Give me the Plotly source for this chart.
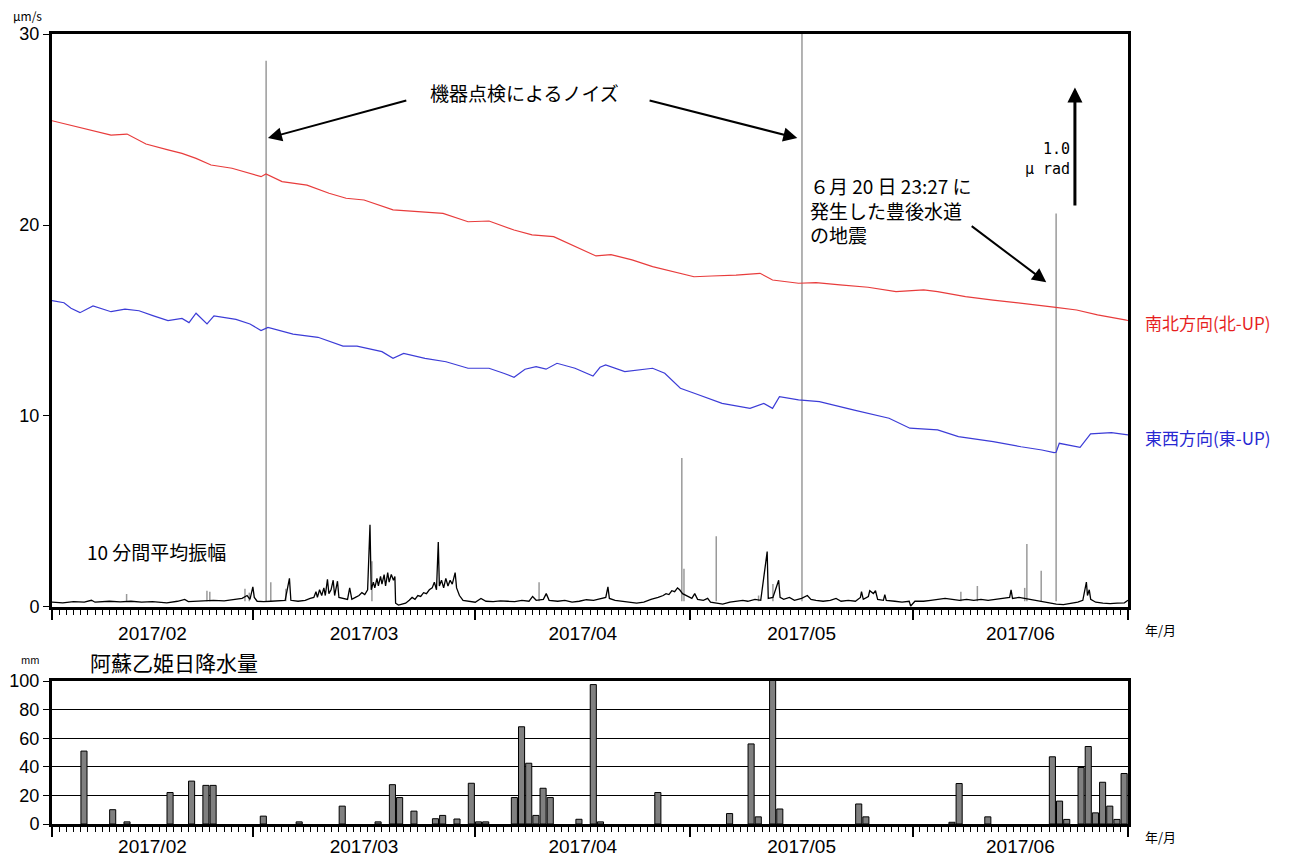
import pandas as pd
import plotly.graph_objects as go

BASE = pd.Timestamp("2017-02-01")
END = pd.Timestamp("2017-07-01")

# 南北方向 tilt (days from 2017-02-01, value)
NS_DAY = [0.0, 4.74, 8.23, 10.46, 13.1, 16.17, 18.12, 20.08, 22.17, 25.09, 29.14, 29.83,
          32.07, 35.55, 38.62, 41.0, 43.5, 47.54, 50.47, 54.51, 58.0, 60.92, 64.41, 66.92,
          69.93, 72.91, 75.84, 77.93, 80.86, 83.73, 86.63, 89.5, 91.97, 95.36, 98.7, 100.45,
          104.07, 106.51, 109.85, 113.76, 117.66, 121.52, 123.46, 127.34, 131.19, 135.09,
          138.02, 139.94, 142.84, 145.75, 149.59, 150.0]
NS_VAL = [25.46, 25.01, 24.71, 24.76, 24.24, 23.93, 23.75, 23.49, 23.14, 22.97, 22.53, 22.67,
          22.27, 22.09, 21.66, 21.4, 21.31, 20.79, 20.7, 20.61, 20.17, 20.21, 19.74, 19.48,
          19.39, 18.86, 18.38, 18.45, 18.17, 17.82, 17.56, 17.29, 17.33, 17.38, 17.47, 17.12,
          16.95, 16.98, 16.86, 16.74, 16.51, 16.6, 16.51, 16.25, 16.07, 15.9,
          15.81, 15.69, 15.55, 15.29, 15.03, 15.0]

# 東西方向 tilt
EW_DAY = [0.0, 1.67, 2.65, 3.9, 5.72, 8.23, 10.18, 12.13, 14.16, 16.17, 18.12, 19.1, 20.08,
          21.61, 22.58, 25.65, 27.6, 29.14, 30.11, 33.6, 37.08, 40.57, 42.52, 46.0, 47.54,
          49.02, 52.0, 54.93, 58.0, 60.92, 62.96, 64.41, 65.94, 67.48, 68.87, 70.4, 72.91,
          75.42, 76.4, 77.18, 79.85, 83.73, 85.42, 87.6, 89.54, 93.41, 97.31, 99.23, 100.45,
          101.41, 104.07, 106.98, 111.84, 116.69, 119.59, 123.46, 126.36, 131.21, 135.09,
          138.0, 139.69, 139.98, 140.42, 143.32, 144.78, 147.69, 150.0]
EW_VAL = [16.04, 15.93, 15.64, 15.41, 15.76, 15.46, 15.59, 15.51, 15.24, 14.99, 15.11, 14.89, 15.38,
          14.82, 15.24, 15.06, 14.82, 14.47, 14.64, 14.29, 14.12, 13.66, 13.66, 13.37, 13.02,
          13.28, 13.02, 12.84, 12.5, 12.5, 12.24, 12.03, 12.45, 12.58, 12.45, 12.76, 12.5,
          12.09, 12.55, 12.67, 12.32, 12.5, 12.24, 11.45, 11.19, 10.66, 10.4, 10.66, 10.4,
          11.01, 10.84, 10.75, 10.31, 9.88, 9.36, 9.27, 8.92, 8.66, 8.39,
          8.22, 8.08, 8.1, 8.57, 8.36, 9.06, 9.13, 9.01]

# 10分間平均振幅 (black trace)
AMP_DAY = [0, 1.5, 3, 4.5, 5.5, 6, 8, 9.5, 11, 12.5, 14, 16, 17.5, 18.5, 19, 21, 22.5, 24, 25.5,
           26.5, 27.2, 27.6, 28.0, 28.2, 28.6, 29.5, 30.5, 31.5, 32.5, 33.1, 33.3, 34.3, 35.3, 36.0,
           36.5, 36.8, 37.0, 37.3, 37.6, 37.9, 38.1, 38.4, 38.6, 38.9, 39.2, 39.4, 39.8, 40.0, 40.5,
           41.2, 41.5, 41.8, 42.3, 42.8, 43.2, 43.6, 44.0, 44.33, 44.5, 44.8, 45.0, 45.3, 45.5,
           45.8, 46.0, 46.3, 46.5, 46.8, 47.0, 47.3, 47.6, 47.8, 47.9, 48.3, 48.8, 49.3, 49.8,
           50.2, 50.6, 51.0, 51.4, 51.8, 52.2, 52.6, 53.0, 53.3, 53.6, 53.85, 54.0, 54.3, 54.6,
           54.9, 55.2, 55.5, 55.8, 56.2, 56.4, 56.8, 57.3, 58, 59, 59.8, 60.5, 61.5, 62.5, 63.5,
           64.5, 65.5, 66.5, 67.0, 67.5, 68.5, 68.9, 69.3, 70.5, 71.5, 72.5, 73.5, 74.5, 75.5,
           76.5, 77.2, 77.5, 77.7, 78.5, 79.5, 80.5, 81.5, 82.5, 83.5, 84.5, 85.2, 85.6, 86.0,
           86.4, 86.8, 87.2, 87.5, 87.9, 88.5, 89.2, 89.6, 90.0, 90.8, 91.4, 91.8, 92.5, 93.5,
           94.5, 95.5, 96.3, 97.0, 98.0, 98.8, 99.7, 99.85, 100.5, 101.3, 101.5, 102.0, 102.8,
           103.5, 104.5, 105.3, 105.8, 106.5, 107.5, 108.5, 109.3, 110.0, 111.0, 112.0, 112.7,
           112.85, 113.1, 113.8, 114.0, 114.5, 114.8, 115.1, 115.9, 116.1, 116.3, 117.5, 118.5,
           119.5, 119.7, 120.3, 121.5, 122.5, 123.5, 124.5, 125.5, 126.5, 127.5, 128.5, 129.5,
           130.5, 131.5, 132.5, 133.5, 133.7, 133.9, 134.8, 135.5, 136.5, 137.3, 138.0, 139.0,
           140.0, 141.0, 142.0, 143.0, 143.7, 144.2, 144.35, 144.6, 144.8, 145.5, 146.5, 147.5,
           148.5, 149.5, 150.0]
AMP_VAL = [0.25, 0.22, 0.28, 0.25, 0.35, 0.25, 0.3, 0.27, 0.3, 0.25, 0.28, 0.22, 0.3, 0.4, 0.28, 0.3, 0.35, 0.32, 0.38,
           0.45, 0.6, 0.4, 1.05, 0.5, 0.3, 0.28, 0.3, 0.32, 0.35, 1.5, 0.35, 0.3, 0.35, 0.45,
           0.5, 0.8, 0.5, 0.9, 0.6, 1.0, 0.6, 1.45, 0.7, 0.9, 1.4, 0.6, 1.35, 0.5, 0.45,
           0.4, 1.0, 0.4, 0.5, 0.6, 0.75, 0.65, 0.9, 4.3, 0.9, 1.3, 1.0, 1.5, 1.1,
           1.6, 1.2, 1.7, 1.1, 1.8, 1.3, 1.7, 1.4, 1.6, 0.2, 0.1, 0.15, 0.2, 0.35,
           0.5, 0.4, 0.6, 0.55, 0.75, 0.7, 0.9, 1.0, 1.3, 0.9, 3.4, 1.1, 1.4, 1.0,
           1.5, 1.1, 1.4, 1.2, 1.8, 1.0, 0.6, 0.35, 0.3, 0.25, 0.45, 0.3, 0.28, 0.32, 0.3,
           0.28, 0.35, 0.3, 0.55, 0.35, 0.4, 0.7, 0.35, 0.3, 0.35, 0.25, 0.3, 0.38, 0.35,
           0.45, 0.5, 1.05, 0.45, 0.35, 0.3, 0.25, 0.2, 0.25, 0.4, 0.5, 0.6, 0.7, 0.65,
           0.85, 0.8, 1.0, 0.9, 0.7, 0.6, 0.45, 0.7, 0.4, 0.35, 0.45, 0.25, 0.2, 0.15,
           0.25, 0.3, 0.35, 0.3, 0.4, 0.35, 2.9, 0.45, 0.5, 1.4, 0.5, 0.4, 0.5,
           0.35, 0.45, 0.6, 0.4, 0.35, 0.3, 0.35, 0.45, 0.3, 0.35, 0.3, 0.5,
           0.8, 0.4, 0.55, 0.85, 0.7, 0.85, 0.4, 0.35, 0.65, 0.35, 0.3, 0.25,
           0.3, 0.05, 0.3, 0.3, 0.35, 0.4, 0.45, 0.4, 0.35, 0.4, 0.35, 0.4,
           0.35, 0.4, 0.45, 0.5, 0.9, 0.45, 0.5, 0.45, 0.4, 0.35, 0.3, 0.2,
           0.15, 0.12, 0.2, 0.25, 0.35, 1.3, 0.6, 0.9, 0.4, 0.25, 0.2, 0.18,
           0.2, 0.22, 0.35]

# gray spikes (instrument noise, earthquake etc.)
SPIKE_DAY = [10.4, 21.6, 22.0, 26.9, 27.5, 29.85, 30.5, 32.6, 44.6, 67.9, 87.8, 88.1, 92.6,
             98.5, 100.5, 104.55, 126.7, 129.0, 135.6, 135.9, 137.9, 139.98]
SPIKE_VAL = [0.68, 0.85, 0.8, 0.95, 0.75, 28.6, 1.3, 0.95, 2.4, 1.3, 7.8, 2.0, 3.7,
             0.6, 1.2, 31.0, 0.8, 1.1, 1.0, 3.3, 1.9, 20.6]
SPIKE_BASE = 0.3

# 阿蘇乙姫 日降水量
RAIN_DATE = ["2017-02-05", "2017-02-09", "2017-02-11", "2017-02-17", "2017-02-20", "2017-02-22",
             "2017-02-23", "2017-03-02", "2017-03-07", "2017-03-13", "2017-03-18", "2017-03-20",
             "2017-03-21", "2017-03-23", "2017-03-26", "2017-03-27", "2017-03-29", "2017-03-31",
             "2017-04-01", "2017-04-02", "2017-04-06", "2017-04-07", "2017-04-08", "2017-04-09",
             "2017-04-10", "2017-04-11", "2017-04-15", "2017-04-17", "2017-04-18", "2017-04-26",
             "2017-05-06", "2017-05-09", "2017-05-10", "2017-05-12", "2017-05-13", "2017-05-24",
             "2017-05-25", "2017-06-06", "2017-06-07", "2017-06-11", "2017-06-20", "2017-06-21",
             "2017-06-22", "2017-06-24", "2017-06-25", "2017-06-26", "2017-06-27", "2017-06-28",
             "2017-06-29", "2017-06-30"]
RAIN_MM = [51, 10, 1.5, 22, 30, 27,
           27, 5.5, 1.5, 12.5, 1.5, 27.5,
           18.5, 9, 3.7, 6, 3.5, 28.5,
           1.5, 1.5, 18.5, 68, 42.5, 6,
           25, 18.5, 3.3, 97.5, 1.5, 22,
           7.3, 56, 5, 105, 10.5, 14,
           5, 1.2, 28.3, 5, 47, 16,
           3.2, 39.5, 54.2, 7.8, 29.2, 12.5,
           3.2, 35.3]

X_TICK_FORMAT = "%Y/%m"

DAY_MS = 86400000


def t(days):
    return [BASE + pd.Timedelta(days=d) for d in days]


def td(d):
    return (BASE + pd.Timedelta(days=d)).strftime("%Y-%m-%d %H:%M:%S")


NUM_FONT = "Liberation Sans, Arial, sans-serif"
JP_FONT = "Noto Sans CJK JP, sans-serif"

fig = go.Figure()

# gray spikes as vertical segments
sx, sy = [], []
for d, v in zip(SPIKE_DAY, SPIKE_VAL):
    ts = BASE + pd.Timedelta(days=d)
    sx += [ts, ts, None]
    sy += [SPIKE_BASE, v, None]
fig.add_trace(go.Scatter(x=sx, y=sy, mode="lines", line=dict(color="#9a9a9a", width=1.5),
                         xaxis="x", yaxis="y", hoverinfo="skip"))

fig.add_trace(go.Scatter(x=t(AMP_DAY), y=AMP_VAL, mode="lines", line=dict(color="black", width=1.3),
                         xaxis="x", yaxis="y"))
fig.add_trace(go.Scatter(x=t(NS_DAY), y=NS_VAL, mode="lines", line=dict(color="rgb(232,60,60)", width=1.2),
                         xaxis="x", yaxis="y"))
fig.add_trace(go.Scatter(x=t(EW_DAY), y=EW_VAL, mode="lines", line=dict(color="rgb(60,60,215)", width=1.2),
                         xaxis="x", yaxis="y"))

rain_x = [pd.Timestamp(s) + pd.Timedelta(hours=11) for s in RAIN_DATE]
fig.add_trace(go.Bar(x=rain_x, y=RAIN_MM, width=0.85 * DAY_MS,
                     marker=dict(color="#808080", line=dict(color="black", width=1)),
                     xaxis="x2", yaxis="y2"))

xcommon = dict(type="date", range=[BASE, END], dtick="M1", tick0="2017-02-01",
               tickformat=X_TICK_FORMAT, ticklabelmode="period", automargin=False,
               ticks="outside", ticklen=10, tickwidth=1.5, tickcolor="black",
               minor=dict(dtick=DAY_MS, ticks="outside", ticklen=5, tickwidth=1,
                          tickcolor="black", showgrid=False),
               showline=True, linewidth=3, linecolor="black", mirror=True,
               showgrid=False, zeroline=False,
               tickfont=dict(family=NUM_FONT, size=19, color="black"))

ycommon = dict(ticks="outside", ticklen=6, tickwidth=1, tickcolor="black", automargin=False,
               showline=True, linewidth=3, linecolor="black", mirror=True,
               zeroline=False, tickfont=dict(family=NUM_FONT, size=18, color="black"))

# page body adds an 8px offset; figure is sized/margined to compensate
fig.update_layout(
    width=1298, height=849,
    margin=dict(l=44, r=178, t=26, b=33),
    paper_bgcolor="white", plot_bgcolor="white",
    showlegend=False,
    xaxis=dict(domain=[0, 1], anchor="y", ticklabelstandoff=-3, **xcommon),
    xaxis2=dict(domain=[0, 1], anchor="y2", ticklabelstandoff=-7, **xcommon),
    yaxis=dict(domain=[0.2747, 1], anchor="x", range=[0, 30], dtick=10, showgrid=False, **ycommon),
    yaxis2=dict(domain=[0, 0.181], anchor="x2", range=[0, 100], dtick=20,
                showgrid=True, gridcolor="black", gridwidth=1, **ycommon),
)

ann = []
# noise text and arrows
ann.append(dict(x=td(65.9), y=26.96, xref="x", yref="y", text="機器点検によるノイズ", showarrow=False,
                font=dict(family=JP_FONT, size=19, color="black")))
ann.append(dict(x=td(30.1), y=24.55, ax=td(49.6), ay=26.54, xref="x", yref="y", axref="x", ayref="y",
                text="", showarrow=True, arrowhead=2, arrowsize=1.4, arrowwidth=2, arrowcolor="black"))
ann.append(dict(x=td(103.9), y=24.55, ax=td(83.1), ay=26.54, xref="x", yref="y", axref="x", ayref="y",
                text="", showarrow=True, arrowhead=2, arrowsize=1.4, arrowwidth=2, arrowcolor="black"))
# earthquake text and arrow
ann.append(dict(x=td(105.4), y=20.78, xref="x", yref="y", xanchor="left", yanchor="middle", align="left",
                text="６月 20 日 23:27 に<br>発生した豊後水道<br>の地震", showarrow=False,
                font=dict(family=JP_FONT, size=19, color="black")))
ann.append(dict(x=td(138.6), y=17.0, ax=td(128.0), ay=20.0, xref="x", yref="y", axref="x", ayref="y",
                text="", showarrow=True, arrowhead=2, arrowsize=1.4, arrowwidth=2, arrowcolor="black"))
# scale bar
ann.append(dict(x=td(142.6), y=27.2, ax=td(142.6), ay=20.94, xref="x", yref="y", axref="x", ayref="y",
                text="", showarrow=True, arrowhead=2, arrowsize=1.0, arrowwidth=3, arrowcolor="black"))
ann.append(dict(x=td(142.25), y=23.45, xref="x", yref="y", xanchor="right", yanchor="middle", align="right",
                text="1.0<br>μ rad", showarrow=False,
                font=dict(family="DejaVu Sans Mono, monospace", size=15, color="black")))
# amplitude label
ann.append(dict(x=td(4.6), y=2.93, xref="x", yref="y", xanchor="left", yanchor="middle",
                text="10 分間平均振幅", showarrow=False,
                font=dict(family=JP_FONT, size=19, color="black")))
# right labels
ann.append(dict(x=1.0139, y=14.87, xref="paper", yref="y", xanchor="left", yanchor="middle",
                text="南北方向(北-UP)", showarrow=False,
                font=dict(family=JP_FONT, size=17, color="rgb(230,30,30)")))
ann.append(dict(x=1.0139, y=8.9, xref="paper", yref="y", xanchor="left", yanchor="middle",
                text="東西方向(東-UP)", showarrow=False,
                font=dict(family=JP_FONT, size=17, color="rgb(40,40,210)")))
# 年/月
for yp in [0.2456, -0.0152]:
    ann.append(dict(x=1.0139, y=yp, xref="paper", yref="paper", xanchor="left", yanchor="middle",
                    text="年/月", showarrow=False,
                    font=dict(family=JP_FONT, size=13, color="black")))
# unit labels
ann.append(dict(x=-0.0232, y=1.0228, xref="paper", yref="paper", xanchor="center", yanchor="middle",
                text="μm/s", showarrow=False,
                font=dict(family=JP_FONT, size=12, color="black")))
ann.append(dict(x=-0.0204, y=0.2076, xref="paper", yref="paper", xanchor="center", yanchor="middle",
                text="mm", showarrow=False,
                font=dict(family=JP_FONT, size=10, color="black")))
# rain title
ann.append(dict(x=0.0335, y=0.205, xref="paper", yref="paper", xanchor="left", yanchor="middle",
                text="阿蘇乙姫日降水量", showarrow=False,
                font=dict(family=JP_FONT, size=21, color="black")))

fig.update_layout(annotations=ann)

fig.write_html("out.html")
